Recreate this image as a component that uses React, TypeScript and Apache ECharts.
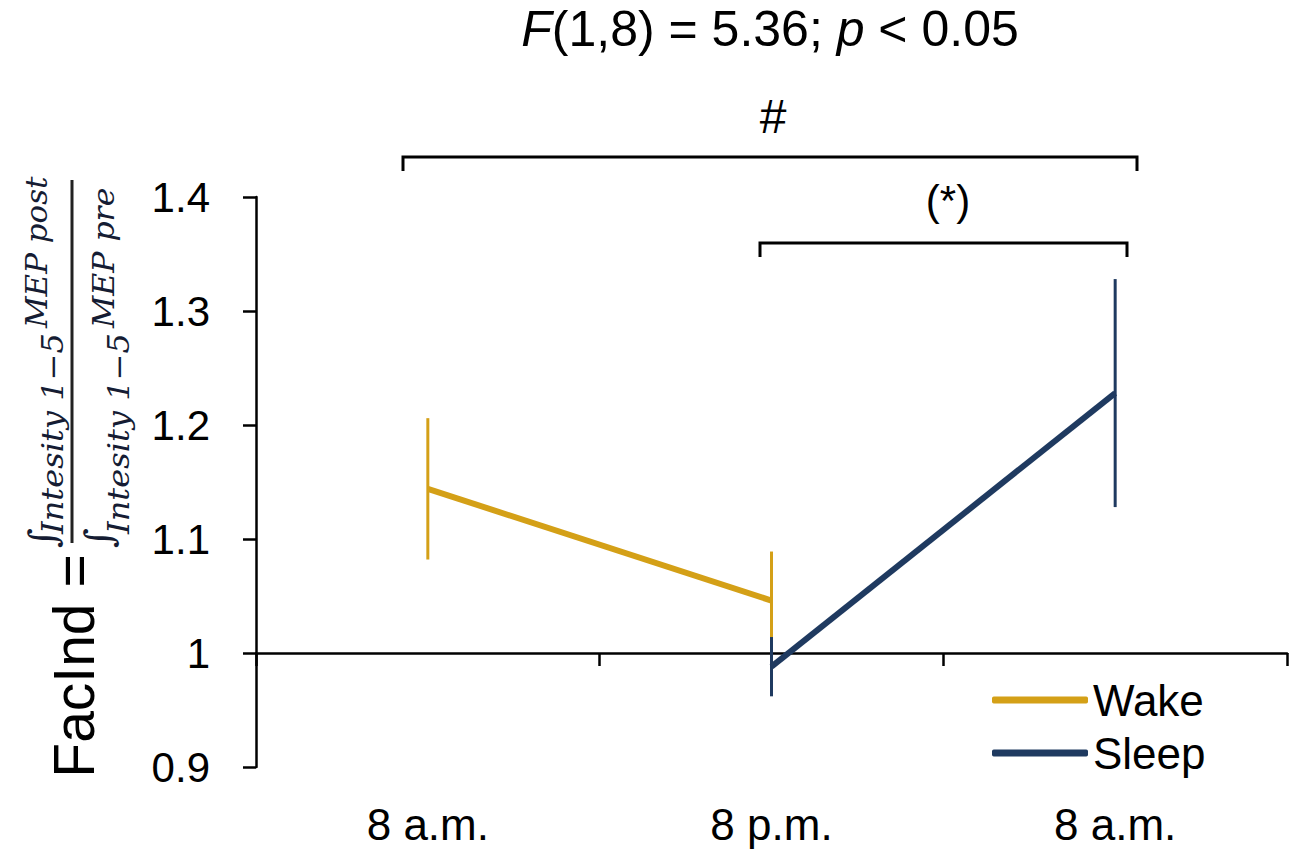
import React, { useEffect, useRef } from "react";
import * as echarts from "echarts";

const categories = ["8 a.m.", "8 p.m.", "8 a.m."];
const wakeMean = [1.144, 1.046, null];
const wakeErr = [0.062, 0.043, null];
const sleepMean = [null, 0.988, 1.228];
const sleepErr = [null, 0.026, 0.1];
const yTicks = { min: 0.9, max: 1.4, interval: 0.1 };

const WAKE = "#D4A017";
const SLEEP = "#1F3A60";
const FONT = "Liberation Sans, Arial, Helvetica, sans-serif";
const MATH = "DejaVu Serif, serif";
const MATHC = "#151c33";

function errData(means: (number | null)[], errs: (number | null)[]) {
  const out: number[][] = [];
  means.forEach((m, i) => {
    const e = errs[i];
    if (m != null && e != null) out.push([i, m, e]);
  });
  return out;
}

function errSeries(name: string, color: string, data: number[][]) {
  return {
    type: "custom",
    name,
    data,
    encode: { x: 0, y: 1 },
    renderItem: (params: any, api: any) => {
      const i = api.value(0);
      const m = api.value(1);
      const e = api.value(2);
      const top = api.coord([i, m + e]);
      const bot = api.coord([i, m - e]);
      return {
        type: "line",
        shape: { x1: top[0], y1: top[1], x2: bot[0], y2: bot[1] },
        style: { stroke: color, lineWidth: 3 },
      };
    },
  };
}

export default function App() {
  const ref = useRef<HTMLDivElement>(null);
  useEffect(() => {
    if (!ref.current) return;
    const chart = echarts.init(ref.current, null, { renderer: "svg" });
    const gridTop = 197;
    const gridBottom = 90;
    const plotH = 857 - gridTop - gridBottom;
    const crossOffset =
      -((1 - yTicks.min) / (yTicks.max - yTicks.min)) * plotH;

    const mathText = (t: string, x: number, y: number, size: number, sx: number) => ({
      type: "text",
      x,
      y,
      scaleX: sx,
      style: {
        text: t,
        fontFamily: MATH,
        fontStyle: "italic",
        fontSize: size,
        fill: MATHC,
        align: "left",
        verticalAlign: "middle",
      },
    });

    chart.setOption({
      animation: false,
      backgroundColor: "#ffffff",
      grid: { left: 256, right: 13, top: gridTop, bottom: gridBottom },
      xAxis: [
        {
          type: "category",
          data: categories,
          position: "bottom",
          axisLine: { show: false },
          axisTick: { show: false },
          axisLabel: { fontSize: 44, color: "#000", fontFamily: FONT, margin: 35 },
        },
        {
          type: "category",
          data: categories,
          position: "bottom",
          offset: crossOffset,
          axisLine: { show: true, lineStyle: { color: "#000", width: 2.5 } },
          axisTick: { show: true, length: 13, lineStyle: { color: "#000", width: 2.5 } },
          axisLabel: { show: false },
        },
      ],
      yAxis: {
        type: "value",
        min: yTicks.min,
        max: yTicks.max,
        interval: yTicks.interval,
        axisLine: { show: true, lineStyle: { color: "#000", width: 2.5 } },
        axisTick: { show: true, length: 13, lineStyle: { color: "#000", width: 2.5 } },
        splitLine: { show: false },
        axisLabel: {
          fontSize: 42,
          color: "#000",
          fontFamily: FONT,
          margin: 46,
          formatter: (v: number) => String(parseFloat(v.toFixed(1))),
        },
      },
      legend: {
        data: ["Wake", "Sleep"],
        orient: "vertical",
        left: 987,
        top: 673,
        itemWidth: 96,
        itemHeight: 7,
        itemGap: 9,
        icon: "roundRect",
        textStyle: { fontSize: 44, color: "#000", fontFamily: FONT, padding: [0, 0, 0, 0] },
      },
      series: [
        {
          type: "line",
          name: "Wake",
          data: wakeMean,
          xAxisIndex: 0,
          symbol: "none",
          color: WAKE,
          lineStyle: { width: 6, color: WAKE },
        },
        errSeries("WakeErr", WAKE, errData(wakeMean, wakeErr)),
        {
          type: "line",
          name: "Sleep",
          data: sleepMean,
          xAxisIndex: 0,
          symbol: "none",
          color: SLEEP,
          lineStyle: { width: 6, color: SLEEP },
        },
        errSeries("SleepErr", SLEEP, errData(sleepMean, sleepErr)),
      ],
      graphic: [
        {
          type: "text",
          x: 770,
          y: 29,
          style: {
            text: "{i|F}(1,8) = 5.36; {i|p} < 0.05",
            fontSize: 50,
            fontFamily: FONT,
            fill: "#000",
            align: "center",
            verticalAlign: "middle",
            rich: { i: { fontStyle: "italic", fontSize: 50, fontFamily: FONT } },
          },
        },
        {
          type: "text",
          x: 773,
          y: 116,
          style: { text: "#", fontSize: 48, fontFamily: FONT, fill: "#000", align: "center", verticalAlign: "middle" },
        },
        {
          type: "polyline",
          shape: { points: [[403, 171], [403, 157], [1137, 157], [1137, 171]] },
          style: { stroke: "#000", lineWidth: 3, fill: "none" },
        },
        {
          type: "text",
          x: 948,
          y: 200,
          style: { text: "(*)", fontSize: 42, fontFamily: FONT, fill: "#000", align: "center", verticalAlign: "middle" },
        },
        {
          type: "polyline",
          shape: { points: [[760, 257], [760, 243], [1127, 243], [1127, 257]] },
          style: { stroke: "#000", lineWidth: 3, fill: "none" },
        },
        {
          type: "text",
          x: 74,
          y: 666,
          rotation: Math.PI / 2,
          style: { text: "FacInd =", fontSize: 57, fontFamily: FONT, fill: "#000", align: "center", verticalAlign: "middle" },
        },
        {
          type: "group",
          x: 72,
          y: 545,
          rotation: Math.PI / 2,
          children: [
            {
              type: "line",
              shape: { x1: 2, y1: 0, x2: 365, y2: 0 },
              style: { stroke: "#222", lineWidth: 3 },
            },
            mathText("\u222B", -3, -29, 38, 1),
            mathText("Intesity 1\u22125", 11, -20, 30, 1.07),
            mathText("MEP post", 217, -35, 30, 1.03),
            mathText("\u222B", -3, 27, 38, 1),
            mathText("Intesity 1\u22125", 11, 46, 30, 1.07),
            mathText("MEP pre", 217, 31, 30, 1.05),
          ],
        },
      ],
    });
    return () => chart.dispose();
  }, []);
  return (
    <div
      ref={ref}
      style={{ position: "absolute", left: 0, top: 0, width: 1300, height: 857, background: "#fff" }}
    />
  );
}
